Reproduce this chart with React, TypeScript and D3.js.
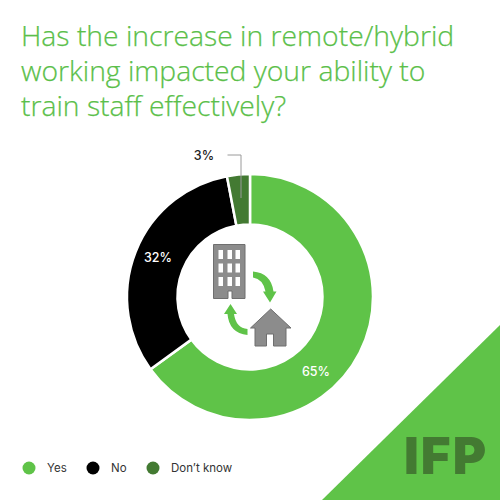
import React from 'react';
import * as d3 from 'd3';

const titleLines = ['Has the increase in remote/hybrid', 'working impacted your ability to', 'train staff effectively?'];
const categories = ['Yes', 'No', 'Don’t know'];
const values = [65, 32, 3];
const colors = ['#5fc348', '#000000', '#437a32'];
const legendX = [29, 93, 153];
const labelPos = [[316, 371], [158, 257], [204, 155]];
const labelFill = ['#fff', '#fff', '#222'];

const green = '#5fc348';
const font = '"Open Sans", sans-serif';

const windowCols = [218.5, 227.5, 235.5];
const windowRows = [250, 263.5, 277];

function arrowOne() {
  const p = d3.path();
  p.moveTo(253, 271.5);
  p.quadraticCurveTo(271, 273, 273.5, 291.5);
  p.lineTo(276.5, 291.5);
  p.lineTo(270, 302.5);
  p.lineTo(263, 291.5);
  p.lineTo(265.5, 291.5);
  p.quadraticCurveTo(263, 279, 253, 277.5);
  p.closePath();
  return p.toString();
}

function arrowTwo() {
  const p = d3.path();
  p.moveTo(247.5, 335);
  p.quadraticCurveTo(229, 333, 227.5, 314);
  p.lineTo(224, 314);
  p.lineTo(230.5, 304);
  p.lineTo(237, 314);
  p.lineTo(234, 314);
  p.quadraticCurveTo(236, 328, 247.5, 329);
  p.closePath();
  return p.toString();
}

export default function App() {
  const color = d3.scaleOrdinal<string, string>().domain(categories).range(colors);
  const arcs = d3.pie<number>().sort(null)(values);
  const arc = d3.arc<d3.PieArcDatum<number>>().innerRadius(72.5).outerRadius(123);

  return (
    <svg width={500} height={500} style={{ position: 'absolute', left: 0, top: 0, background: '#fff' }}>
      <g fontFamily={font} fontSize={28.3} fontWeight={300} fill="#5bbf4a" stroke="#5bbf4a" strokeWidth={0.25}>
        {titleLines.map((t, i) => (
          <text key={t} x={21} y={46 + i * 35}>{t}</text>
        ))}
      </g>

      <g transform="translate(250,297)">
        {arcs.map((d, i) => (
          <path key={categories[i]} d={arc(d) as string} fill={color(categories[i])} stroke="#fff" strokeWidth={2.5} />
        ))}
      </g>

      {values.map((v, i) => (
        <text key={categories[i]} x={labelPos[i][0]} y={labelPos[i][1]} dy="0.36em" textAnchor="middle"
          fontFamily="Inter, sans-serif" fontSize={12.5} fontWeight={500} fill={labelFill[i]}>{v}%</text>
      ))}
      <path d="M227.5,155H241V198" fill="none" stroke="#9a9a9a" strokeWidth={1} />

      <path d="M213.5,244.5H245V298.5H232V291H228V298.5H213.5Z" fill="#8c8c8c" stroke="#6f6f6f" strokeWidth={1} />
      {windowRows.map((y) =>
        windowCols.map((x) => <rect key={`${x}-${y}`} x={x} y={y} width={4.5} height={9} fill="#fff" />)
      )}
      <path d="M270.7,309L291,328H286V346H273.5V334H266.5V346H255V328H250.5Z" fill="#8c8c8c" stroke="#6f6f6f" strokeWidth={1} />
      <path d={arrowOne()} fill={green} />
      <path d={arrowTwo()} fill={green} />

      {categories.map((c, i) => (
        <g key={c}>
          <circle cx={legendX[i]} cy={468} r={6.5} fill={color(c)} />
          <text x={legendX[i] + 18} y={472} fontFamily="Inter, sans-serif" fontSize={11.5} fontWeight={400} fill="#333">{c}</text>
        </g>
      ))}

      <path d="M500,325L322,500H500Z" fill={green} />
      <text x={404} y={474} fontFamily="Inter, sans-serif" fontSize={51} fontWeight={900} letterSpacing={2} fill="#437a32">IFP</text>
    </svg>
  );
}
